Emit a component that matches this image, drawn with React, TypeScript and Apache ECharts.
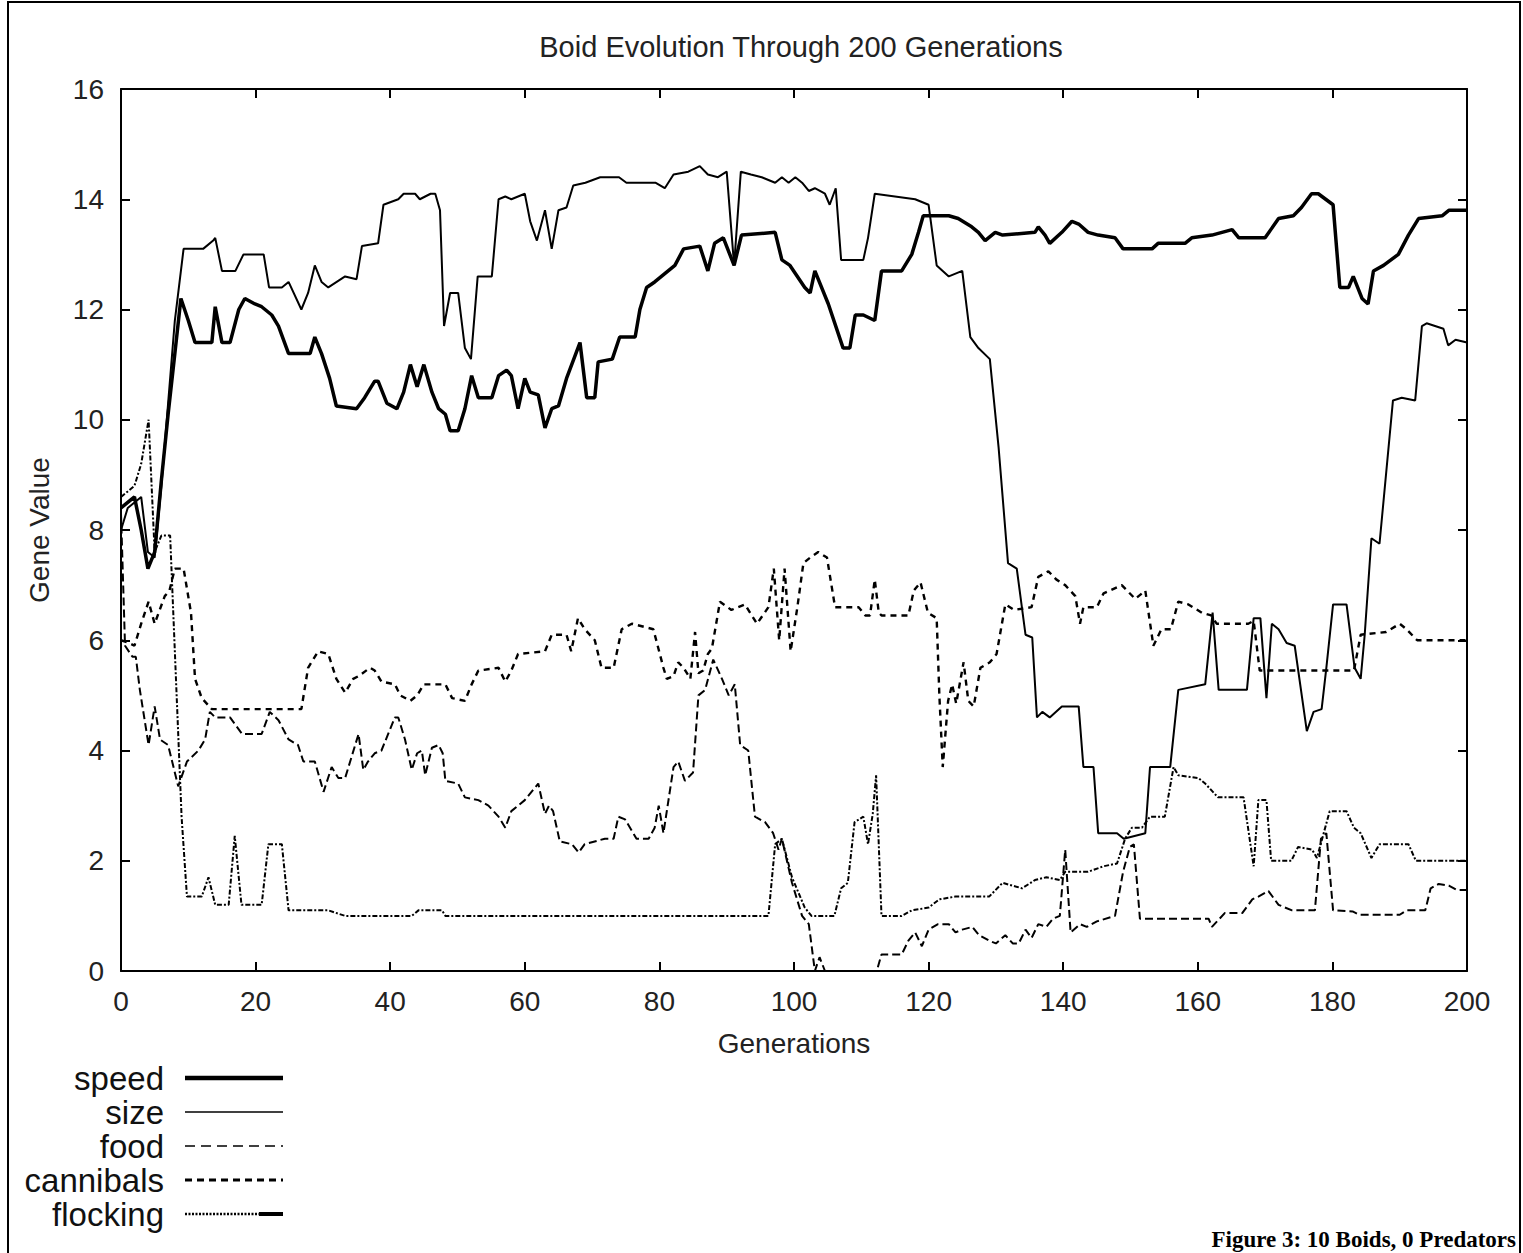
import React, { useEffect, useRef } from "react";
import * as echarts from "echarts";

// [generation, gene value]
const speed: [number, number][] = [
  [0, 8.4], [1, 8.5], [2, 8.6], [3, 8.0], [4, 7.3], [5, 7.6], [6, 8.9], [7, 10.1], [8, 11.2], [8.9, 12.2],
  [10, 11.8], [11, 11.4], [13.5, 11.4], [14, 12.05], [15, 11.4], [16.2, 11.4], [17.5, 12.0], [18.4, 12.2],
  [19.9, 12.1], [20.9, 12.05], [22.4, 11.9], [23.4, 11.7], [24.9, 11.2], [28.1, 11.2], [28.8, 11.5],
  [29.8, 11.2], [31, 10.75], [32, 10.25], [35, 10.2], [36.2, 10.4], [37.7, 10.7], [38.2, 10.7], [39.5, 10.3],
  [41, 10.2], [42, 10.5], [43, 11.0], [44, 10.6], [45, 11.0], [46.2, 10.5], [47.2, 10.2], [48.2, 10.1],
  [48.9, 9.8], [50.1, 9.8], [51.1, 10.2], [52.1, 10.8], [53.1, 10.4], [55.1, 10.4], [56.1, 10.8], [57.3, 10.9],
  [58, 10.8], [59, 10.2], [60, 10.75], [60.8, 10.5], [62, 10.45], [63, 9.85], [64, 10.2], [65, 10.25],
  [66.2, 10.75], [68.2, 11.4], [69.2, 10.4], [70.4, 10.4], [70.9, 11.05], [73, 11.1], [74.1, 11.5], [76.4, 11.5],
  [77.1, 12.0], [78.1, 12.4], [79.3, 12.5], [80.3, 12.6], [82.3, 12.8], [83.6, 13.1], [86, 13.15], [87.2, 12.7],
  [88.2, 13.2], [89.5, 13.3], [91.1, 12.8], [92.2, 13.35], [97.2, 13.4], [98.2, 12.9], [99.4, 12.8],
  [101.6, 12.4], [102.4, 12.3], [103.1, 12.7], [105.1, 12.1], [107.3, 11.3], [108.3, 11.3], [109.1, 11.9],
  [110.3, 11.9], [112, 11.8], [113, 12.7], [116, 12.7], [117.5, 13.0], [118.5, 13.4], [119.2, 13.7], [123, 13.7],
  [124.4, 13.65], [126.4, 13.5], [127.4, 13.4], [128.4, 13.25], [129.9, 13.4], [131, 13.35], [135.8, 13.4],
  [136.3, 13.5], [137.3, 13.35], [138, 13.2], [139.8, 13.4], [141.3, 13.6], [142.3, 13.55], [143.7, 13.4],
  [145.2, 13.35], [147.7, 13.3], [148.9, 13.1], [153.2, 13.1], [154.1, 13.2], [158.1, 13.2], [159.1, 13.3],
  [162.1, 13.35], [165.1, 13.45], [166.1, 13.3], [170, 13.3], [172, 13.65], [174.2, 13.7], [175.4, 13.85],
  [176.9, 14.1], [177.9, 14.1], [180.1, 13.9], [181.1, 12.4], [182.4, 12.4], [183.1, 12.6], [184.4, 12.2],
  [185.3, 12.1], [186.1, 12.7], [187.6, 12.8], [189.8, 13.0], [191.3, 13.35], [192.8, 13.65], [196.3, 13.7],
  [197.3, 13.8], [200, 13.8],
];

const size: [number, number][] = [
  [0, 8.0], [1, 8.4], [2, 8.5], [3, 8.6], [4, 7.6], [5, 7.5], [6, 8.8], [7, 10.3], [8, 11.8], [9.3, 13.1],
  [12.2, 13.1], [13.7, 13.25], [14, 13.3], [15, 12.7], [17, 12.7], [18.2, 13.0], [21.2, 13.0], [22, 12.4],
  [23.9, 12.4], [24.9, 12.5], [26.8, 12.0], [27.8, 12.3], [28.8, 12.8], [29.8, 12.5], [30.8, 12.4], [33.3, 12.6],
  [35, 12.55], [35.8, 13.15], [38.2, 13.2], [39, 13.9], [41.2, 14.0], [42, 14.1], [43.7, 14.1], [44.4, 14.0],
  [46, 14.1], [46.7, 14.1], [47.4, 13.8], [48, 11.7], [48.9, 12.3], [50.1, 12.3], [51.1, 11.3], [52, 11.1],
  [53, 12.6], [55.1, 12.6], [56.1, 14.0], [57.1, 14.05], [58, 14.0], [60, 14.1], [60.8, 13.6], [61.8, 13.25],
  [63, 13.8], [64, 13.1], [65, 13.8], [66.2, 13.85], [67.2, 14.25], [69, 14.3], [71.2, 14.4], [74, 14.4],
  [75.1, 14.3], [79.4, 14.3], [80.8, 14.2], [82.1, 14.45], [84.3, 14.5], [86, 14.6], [87.2, 14.45], [88.7, 14.4],
  [90, 14.5], [91.1, 12.8], [92.1, 14.5], [93.6, 14.45], [95.2, 14.4], [97.2, 14.3], [98.2, 14.4], [99.2, 14.3],
  [100.2, 14.4], [101.2, 14.3], [102.2, 14.15], [103.1, 14.2], [104.6, 14.1], [105.3, 13.9], [106.2, 14.2],
  [107, 12.9], [110.3, 12.9], [111, 13.3], [112, 14.1], [118, 14.0], [120, 13.9], [121.2, 12.8], [123, 12.6],
  [125, 12.7], [126.2, 11.5], [127.4, 11.3], [129.1, 11.1], [130.4, 9.5], [131.8, 7.4], [133.1, 7.3],
  [134.4, 6.1], [135.4, 6.05], [136.1, 4.6], [136.9, 4.7], [138, 4.6], [139.8, 4.8], [142.3, 4.8], [143, 3.7],
  [144.5, 3.7], [145.2, 2.5], [148, 2.5], [149, 2.4], [152.2, 2.5], [152.9, 3.7], [155.9, 3.7], [157.1, 5.1],
  [161.1, 5.2], [162.2, 6.5], [163.1, 5.1], [167.3, 5.1], [168.3, 6.4], [169.3, 6.4], [170.2, 4.95], [171, 6.3],
  [172, 6.2], [173.2, 5.95], [174.4, 5.9], [176.2, 4.35], [177.2, 4.7], [178.4, 4.75], [179.1, 5.5],
  [180.1, 6.65], [182.1, 6.65], [183.3, 5.5], [184.2, 5.3], [184.8, 6.1], [185.8, 7.85], [187, 7.75],
  [189, 10.35], [190.3, 10.4], [192.3, 10.35], [193.3, 11.7], [194, 11.75], [196.5, 11.65], [197.2, 11.35],
  [198.3, 11.45], [200, 11.4],
];

const food: [number, number][] = [
  [0, 8.3], [0.6, 5.9], [1.7, 5.7], [2.2, 5.7], [2.8, 5.1], [4.1, 4.1], [5, 4.8], [5.8, 4.2], [7, 4.1],
  [8.5, 3.35], [9.8, 3.8], [11.5, 4.0], [12.5, 4.2], [13.2, 4.7], [14, 4.6], [16.2, 4.6], [18, 4.3], [20.9, 4.3],
  [22.1, 4.7], [23.4, 4.55], [24.9, 4.2], [26.3, 4.1], [27.1, 3.8], [28.8, 3.8], [30.1, 3.25], [31.3, 3.7],
  [32.3, 3.5], [33.3, 3.5], [34.3, 3.9], [35.3, 4.3], [36, 3.65], [36.7, 3.8], [37.7, 3.95], [38.7, 4.0],
  [39.7, 4.3], [40.7, 4.6], [41.2, 4.6], [42.2, 4.2], [43.2, 3.65], [44, 3.95], [44.7, 4.0], [45.2, 3.55],
  [46.2, 4.05], [47.2, 4.1], [47.8, 3.95], [48.2, 3.45], [50.1, 3.4], [51.1, 3.15], [53.1, 3.1], [54.6, 3.0],
  [56.1, 2.8], [57.1, 2.6], [58, 2.9], [60, 3.1], [62, 3.4], [63, 2.85], [63.6, 3.0], [64.2, 2.9], [65.2, 2.35],
  [67, 2.3], [68, 2.15], [68.9, 2.3], [71.9, 2.4], [73.2, 2.4], [73.9, 2.8], [74.9, 2.75], [76.6, 2.4],
  [78.4, 2.4], [79.3, 2.6], [79.9, 3.0], [80.6, 2.5], [82.1, 3.7], [82.8, 3.8], [83.8, 3.45], [85, 3.6],
  [85.8, 5.0], [86.8, 5.1], [88, 5.65], [89.3, 5.3], [90.3, 5.0], [91.2, 5.2], [92, 4.1], [93.2, 4.0],
  [94.2, 2.8], [95.7, 2.7], [96.9, 2.5], [97.7, 2.2], [98.2, 2.4], [99.7, 1.6], [101.2, 1.0], [102.2, 0.85],
  [103.1, 0], [103.8, 0.25], [104.6, 0], [105.5, -0.4], [111.5, -0.4], [112.3, 0], [113, 0.3], [116, 0.3],
  [117, 0.55], [118, 0.7], [119, 0.45], [120, 0.75], [121.4, 0.85], [123, 0.85], [124, 0.7], [125, 0.75],
  [126.5, 0.8], [127.5, 0.65], [129, 0.55], [130, 0.5], [131.4, 0.65], [132.5, 0.5], [133.4, 0.5], [134.4, 0.75],
  [135.3, 0.6], [136.3, 0.85], [137.5, 0.8], [138.5, 0.95], [139.5, 1.0], [140.3, 2.2], [141.1, 0.7],
  [142.5, 0.85], [143.5, 0.8], [145, 0.9], [147.7, 1.0], [148.9, 1.8], [149.9, 2.25], [150.5, 2.3],
  [151.4, 0.95], [161.6, 0.95], [162.1, 0.8], [164, 1.05], [166.6, 1.05], [168.1, 1.3], [169, 1.35],
  [170.5, 1.45], [172, 1.2], [174, 1.1], [177.4, 1.1], [178.3, 2.4], [179.1, 2.5], [180.1, 1.1], [183, 1.08],
  [184, 1.02], [190, 1.02], [191, 1.1], [193.8, 1.1], [194.6, 1.5], [195.8, 1.58], [197.3, 1.55], [198.5, 1.47],
  [200, 1.47],
];

const cannibals: [number, number][] = [
  [0, 6.0], [1.2, 5.95], [2, 5.9], [3, 6.3], [4.1, 6.7], [5, 6.3], [6.5, 6.8], [7.2, 6.9], [8, 7.3], [9.3, 7.3],
  [10.4, 6.5], [11, 5.3], [12, 4.95], [13.5, 4.75], [26.8, 4.75], [27.8, 5.5], [29.3, 5.8], [30.8, 5.75],
  [32, 5.3], [33.3, 5.05], [34.5, 5.3], [35.3, 5.35], [37, 5.5], [37.7, 5.45], [38.7, 5.25], [40.7, 5.2],
  [41.5, 5.0], [43, 4.9], [44, 5.0], [45, 5.2], [48.2, 5.2], [49.2, 4.95], [51.1, 4.9], [52.1, 5.2],
  [53.1, 5.45], [56.1, 5.5], [57.1, 5.25], [58, 5.45], [59, 5.75], [63, 5.8], [64, 6.1], [66.2, 6.1],
  [66.9, 5.8], [67.9, 6.4], [68.9, 6.2], [70.4, 6.0], [71.4, 5.5], [73.2, 5.5], [74.4, 6.2], [75.9, 6.3],
  [79.1, 6.2], [80.6, 5.5], [81.1, 5.3], [82.1, 5.35], [82.8, 5.6], [83.6, 5.5], [84.6, 5.3], [85.3, 6.15],
  [85.8, 5.4], [86.5, 5.45], [87.2, 5.75], [87.8, 5.85], [89, 6.7], [90.7, 6.55], [92.7, 6.65], [94.5, 6.3],
  [96.2, 6.6], [97, 7.3], [97.8, 6.0], [98.6, 7.3], [99.5, 5.8], [100.5, 6.6], [101.4, 7.4], [102.4, 7.5],
  [103.6, 7.6], [104.9, 7.5], [106.1, 6.6], [109.6, 6.6], [110.6, 6.45], [111.3, 6.45], [112, 7.1],
  [112.6, 6.5], [113, 6.45], [117, 6.45], [117.8, 6.9], [118.8, 7.05], [119.9, 6.5], [121.2, 6.4], [121.6, 5.0],
  [122.1, 3.7], [122.9, 4.9], [123.5, 5.2], [124.1, 4.85], [125.2, 5.6], [125.9, 4.9], [126.7, 4.8],
  [127.7, 5.5], [129.1, 5.6], [130.1, 5.75], [131.4, 6.65], [132.7, 6.55], [135.3, 6.6], [136.3, 7.15],
  [137.8, 7.25], [139, 7.1], [140.3, 7.0], [141.8, 6.8], [142.5, 6.3], [143, 6.6], [145, 6.6], [146, 6.85],
  [148.7, 7.0], [150.7, 6.75], [152.2, 6.9], [153.4, 5.9], [154.6, 6.2], [156, 6.2], [157.1, 6.7],
  [158.6, 6.65], [160.6, 6.5], [162, 6.45], [162.8, 6.3], [167.5, 6.3], [168.3, 6.35], [169.2, 5.45],
  [183.2, 5.45], [184.2, 6.1], [188, 6.15], [190, 6.3], [191, 6.2], [192.6, 6.0], [200, 6.0],
];

const flocking: [number, number][] = [
  [0, 8.6], [1, 8.7], [2, 8.8], [3, 9.2], [4.1, 10.0], [5, 7.6], [6, 7.9], [7.3, 7.9], [8, 5.8], [9, 2.8],
  [9.8, 1.35], [12, 1.35], [13, 1.7], [14, 1.2], [16, 1.2], [16.9, 2.45], [17.9, 1.2], [20.9, 1.2], [21.9, 2.3],
  [23.9, 2.3], [24.9, 1.1], [30.8, 1.1], [33.3, 1.0], [43.2, 1.0], [44.2, 1.1], [47.7, 1.1], [48.2, 1.0],
  [96.2, 1.0], [97.2, 2.3], [98.2, 2.4], [99.7, 1.7], [101.6, 1.15], [102.6, 1.0], [106, 1.0], [107, 1.5],
  [108, 1.6], [109, 2.7], [110.3, 2.8], [111, 2.3], [111.7, 2.85], [112.2, 3.55], [113, 1.0], [116, 1.0],
  [117.5, 1.1], [120, 1.15], [121.6, 1.3], [124, 1.35], [129, 1.35], [131, 1.6], [132.4, 1.55], [133.9, 1.5],
  [135.8, 1.65], [137.5, 1.7], [139.5, 1.65], [140.3, 1.8], [143.7, 1.8], [146, 1.9], [148, 1.95], [149.2, 2.4],
  [150.2, 2.6], [151.7, 2.6], [152.9, 2.8], [155.1, 2.8], [156.4, 3.7], [157.1, 3.55], [160.1, 3.5],
  [161.1, 3.4], [163, 3.15], [166.8, 3.15], [168.3, 1.9], [169, 3.1], [170.2, 3.1], [170.9, 2.0], [173.9, 2.0],
  [174.9, 2.25], [177, 2.2], [177.7, 2.05], [179.6, 2.9], [182.1, 2.9], [183.2, 2.6], [184.2, 2.5],
  [185.8, 2.05], [187, 2.3], [191.3, 2.3], [192.4, 2.0], [200, 2.0],
];

const legendNames = ["speed", "size", "food", "cannibals", "flocking"];
const titleText = "Boid Evolution Through 200 Generations";
const footText = "Figure 3: 10 Boids, 0 Predators";

const SANS = "'Liberation Sans', Arial, Helvetica, sans-serif";
const SERIF = "'Liberation Serif', 'Times New Roman', serif";

export default function App() {
  const ref = useRef<HTMLDivElement>(null);

  useEffect(() => {
    if (!ref.current) return;
    const chart = echarts.init(ref.current, null, { renderer: "svg", width: 1523, height: 1253 });

    const styles: Record<string, any> = {
      speed: { color: "#000", width: 3.5, type: "solid" },
      size: { color: "#000", width: 2, type: "solid" },
      food: { color: "#000", width: 2, type: [8, 4] },
      cannibals: { color: "#000", width: 2.4, type: [6, 5] },
      flocking: { color: "#000", width: 2, type: [5, 2, 2, 2] },
    };
    const dataMap: Record<string, [number, number][]> = { speed, size, food, cannibals, flocking };

    const legendY = [1078, 1112, 1146, 1180, 1214];
    const legendLineStyles: Record<string, any> = {
      speed: { stroke: "#000", lineWidth: 4.5 },
      size: { stroke: "#000", lineWidth: 1.5 },
      food: { stroke: "#000", lineWidth: 1.5, lineDash: [10, 6] },
      cannibals: { stroke: "#000", lineWidth: 3, lineDash: [7, 5] },
    };
    const legendGraphics: any[] = [];
    legendNames.forEach((n, i) => {
      legendGraphics.push({
        type: "text",
        x: 164,
        y: legendY[i],
        style: { text: n, font: `33px ${SANS}`, fill: "#111", textAlign: "right", textVerticalAlign: "middle" },
      });
      if (n === "flocking") {
        legendGraphics.push({
          type: "line",
          shape: { x1: 185, y1: legendY[i], x2: 259, y2: legendY[i] },
          style: { stroke: "#000", lineWidth: 2.5, lineDash: [2, 1.5] },
        });
        legendGraphics.push({
          type: "line",
          shape: { x1: 259, y1: legendY[i], x2: 283, y2: legendY[i] },
          style: { stroke: "#000", lineWidth: 4 },
        });
      } else {
        legendGraphics.push({
          type: "line",
          shape: { x1: 185, y1: legendY[i], x2: 283, y2: legendY[i] },
          style: legendLineStyles[n],
        });
      }
    });

    const axisCommon = {
      type: "value",
      axisLine: { show: true, onZero: false, lineStyle: { color: "#000", width: 2 } },
      axisTick: { show: true, inside: true, length: 9, lineStyle: { color: "#000", width: 2 } },
      splitLine: { show: false },
    };

    chart.setOption({
      animation: false,
      backgroundColor: "#fff",
      title: {
        text: titleText,
        left: 796,
        top: 27,
        textAlign: "center",
        textStyle: { fontFamily: SANS, fontSize: 29, fontWeight: "normal", color: "#222" },
      },
      grid: { left: 121, top: 89, width: 1346, height: 882, containLabel: false },
      xAxis: [
        {
          ...axisCommon,
          position: "bottom",
          min: 0,
          max: 200,
          interval: 20,
          name: "Generations",
          nameLocation: "middle",
          nameGap: 58,
          nameTextStyle: { fontFamily: SANS, fontSize: 28, color: "#222" },
          axisLabel: { fontFamily: SANS, fontSize: 28, color: "#222", margin: 16 },
        },
        {
          ...axisCommon,
          position: "top",
          min: 0,
          max: 200,
          interval: 20,
          axisLabel: { show: false },
        },
      ],
      yAxis: [
        {
          ...axisCommon,
          position: "left",
          min: 0,
          max: 16,
          interval: 2,
          name: "Gene Value",
          nameLocation: "middle",
          nameGap: 68,
          nameRotate: 90,
          nameTextStyle: { fontFamily: SANS, fontSize: 28, color: "#222" },
          axisLabel: { fontFamily: SANS, fontSize: 28, color: "#222", margin: 17 },
        },
        {
          ...axisCommon,
          position: "right",
          min: 0,
          max: 16,
          interval: 2,
          axisLabel: { show: false },
        },
      ],
      series: legendNames.map((n) => ({
        name: n,
        type: "line",
        xAxisIndex: 0,
        yAxisIndex: 0,
        data: dataMap[n],
        symbol: "none",
        showSymbol: false,
        clip: true,
        silent: true,
        lineStyle: styles[n],
      })),
      graphic: [
        {
          type: "rect",
          shape: { x: 8, y: 2, width: 1512, height: 1270 },
          style: { fill: "none", stroke: "#000", lineWidth: 2 },
          silent: true,
        },
        ...legendGraphics,
        {
          type: "text",
          x: 1516,
          y: 1251,
          style: { text: footText, font: `bold 23px ${SERIF}`, fill: "#000", textAlign: "right", textVerticalAlign: "bottom" },
        },
      ],
    });

    return () => chart.dispose();
  }, []);

  return (
    <div
      ref={ref}
      style={{ position: "absolute", left: 0, top: 0, width: 1523, height: 1253, background: "#fff" }}
    />
  );
}
